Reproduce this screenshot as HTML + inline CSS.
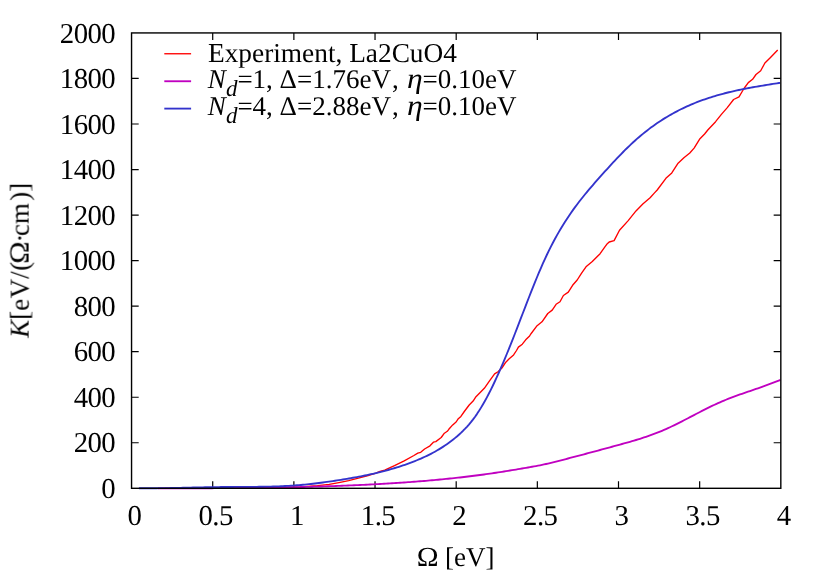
<!DOCTYPE html>
<html><head><meta charset="utf-8"><title>plot</title>
<style>
html,body{margin:0;padding:0;background:#fff;}
body{width:822px;height:576px;overflow:hidden;}
svg{display:block;}
text{font-family:"Liberation Serif",serif;font-size:27px;fill:#000;font-kerning:none;text-rendering:geometricPrecision;}
.i{font-style:italic;}
.tk{font-size:28.8px;letter-spacing:-0.55px;}
</style></head><body>
<svg width="822" height="576" viewBox="0 0 822 576">
<rect width="822" height="576" fill="#fff"/>
<g fill="none" stroke="#000" stroke-width="1.2" stroke-linecap="butt">
<path d="M212.71,488.3 V481.15 M212.71,32.93 V40.08 M293.87,488.3 V481.15 M293.87,32.93 V40.08 M375.03,488.3 V481.15 M375.03,32.93 V40.08 M456.19,488.3 V481.15 M456.19,32.93 V40.08 M537.34,488.3 V481.15 M537.34,32.93 V40.08 M618.50,488.3 V481.15 M618.50,32.93 V40.08 M699.66,488.3 V481.15 M699.66,32.93 V40.08 M131.55,442.76 H138.70 M780.82,442.76 H773.67 M131.55,397.23 H138.70 M780.82,397.23 H773.67 M131.55,351.69 H138.70 M780.82,351.69 H773.67 M131.55,306.15 H138.70 M780.82,306.15 H773.67 M131.55,260.62 H138.70 M780.82,260.62 H773.67 M131.55,215.08 H138.70 M780.82,215.08 H773.67 M131.55,169.54 H138.70 M780.82,169.54 H773.67 M131.55,124.00 H138.70 M780.82,124.00 H773.67 M131.55,78.47 H138.70 M780.82,78.47 H773.67"/>
</g>
<g fill="none" stroke-linejoin="round" stroke-linecap="butt">
<path d="M165.0,488.3 L260.0,488.0 L300.0,486.9 L317.5,485.7 L329.2,484.3 L338.9,482.6 L348.7,480.7 L358.4,478.2 L368.1,475.5 L375.9,473.1 L380.0,471.5 L384.7,470.1 L394.5,465.7 L404.2,460.9 L413.9,455.5 L417.8,453.1 L420.7,452.3 L424.6,449.0 L430.0,445.8 L433.4,442.2 L435.8,441.6 L441.2,437.5 L444.4,433.2 L447.3,431.3 L448.8,429.3 L452.7,424.9 L456.1,422.0 L458.0,419.1 L460.9,416.4 L464.3,411.5 L469.2,405.0 L473.1,401.1 L476.0,396.7 L480.9,391.8 L484.3,388.3 L489.7,380.7 L494.6,373.9 L498.0,371.7 L501.9,368.0 L505.8,362.2 L509.2,358.8 L513.6,354.9 L516.5,350.5 L518.4,347.1 L522.3,344.2 L525.7,339.8 L529.6,335.9 L530.8,334.0 L537.1,325.7 L542.0,321.8 L547.8,313.5 L552.2,310.1 L556.1,304.3 L560.0,301.8 L563.4,295.5 L568.3,292.1 L572.6,285.3 L577.2,280.0 L581.6,273.1 L586.0,266.8 L592.3,261.5 L600.1,253.7 L604.9,246.9 L607.3,243.7 L609.2,242.0 L614.1,240.6 L619.5,230.3 L628.2,220.6 L636.0,210.9 L642.8,204.1 L650.1,197.7 L654.5,192.9 L657.2,190.0 L665.9,178.3 L671.8,172.9 L678.1,163.2 L683.9,157.8 L689.8,153.0 L694.1,148.1 L699.5,139.3 L704.6,134.0 L707.8,130.0 L715.6,121.7 L721.4,114.4 L727.3,107.6 L733.6,99.5 L739.0,96.9 L741.9,92.0 L744.0,88.5 L748.3,82.6 L752.6,79.3 L756.0,74.5 L760.7,70.7 L764.9,63.0 L770.0,57.9 L777.7,50.0" stroke="#ff0000" stroke-width="1.35"/>
<path d="M158.0,488.34 L160.0,488.34 L162.0,488.34 L164.0,488.33 L166.0,488.33 L168.0,488.33 L170.0,488.32 L172.0,488.32 L174.0,488.32 L176.0,488.31 L178.0,488.31 L180.0,488.31 L182.0,488.30 L184.0,488.30 L186.0,488.29 L188.0,488.29 L190.0,488.28 L192.0,488.28 L194.0,488.27 L196.0,488.26 L198.0,488.26 L200.0,488.25 L202.0,488.24 L204.0,488.24 L206.0,488.23 L208.0,488.22 L210.0,488.21 L212.0,488.20 L214.0,488.19 L216.0,488.18 L218.0,488.17 L220.0,488.16 L222.0,488.15 L224.0,488.14 L226.0,488.12 L228.0,488.11 L230.0,488.10 L232.0,488.08 L234.0,488.06 L236.0,488.05 L238.0,488.03 L240.0,488.01 L242.0,488.00 L244.0,487.98 L246.0,487.96 L248.0,487.94 L250.0,487.91 L252.0,487.89 L254.0,487.87 L256.0,487.85 L258.0,487.82 L260.0,487.80 L262.0,487.77 L264.0,487.74 L266.0,487.71 L268.0,487.68 L270.0,487.65 L272.0,487.62 L274.0,487.59 L276.0,487.56 L278.0,487.52 L280.0,487.49 L282.0,487.45 L284.0,487.41 L286.0,487.37 L288.0,487.33 L290.0,487.29 L292.0,487.25 L294.0,487.21 L296.0,487.16 L298.0,487.12 L300.0,487.07 L302.0,487.02 L304.0,486.97 L306.0,486.92 L308.0,486.87 L310.0,486.82 L312.0,486.76 L314.0,486.70 L316.0,486.65 L318.0,486.59 L320.0,486.53 L322.0,486.47 L324.0,486.40 L326.0,486.34 L328.0,486.27 L330.0,486.20 L332.0,486.14 L334.0,486.06 L336.0,485.99 L338.0,485.92 L340.0,485.84 L342.0,485.77 L344.0,485.69 L346.0,485.61 L348.0,485.53 L350.0,485.44 L352.0,485.36 L354.0,485.27 L356.0,485.18 L358.0,485.09 L360.0,485.00 L362.0,484.90 L364.0,484.81 L366.0,484.71 L368.0,484.61 L370.0,484.51 L372.0,484.41 L374.0,484.30 L376.0,484.20 L378.0,484.09 L380.0,483.98 L382.0,483.86 L384.0,483.75 L386.0,483.63 L388.0,483.51 L390.0,483.39 L392.0,483.27 L394.0,483.14 L396.0,483.01 L398.0,482.88 L400.0,482.75 L402.0,482.62 L404.0,482.48 L406.0,482.34 L408.0,482.20 L410.0,482.05 L412.0,481.91 L414.0,481.76 L416.0,481.60 L418.0,481.45 L420.0,481.29 L422.0,481.13 L424.0,480.96 L426.0,480.80 L428.0,480.63 L430.0,480.45 L432.0,480.28 L434.0,480.10 L436.0,479.91 L438.0,479.73 L440.0,479.54 L442.0,479.35 L444.0,479.15 L446.0,478.95 L448.0,478.75 L450.0,478.54 L452.0,478.33 L454.0,478.12 L456.0,477.90 L458.0,477.68 L460.0,477.46 L462.0,477.23 L464.0,477.00 L466.0,476.76 L468.0,476.52 L470.0,476.28 L472.0,476.03 L474.0,475.78 L476.0,475.53 L478.0,475.27 L480.0,475.00 L482.0,474.73 L484.0,474.46 L486.0,474.19 L488.0,473.90 L490.0,473.62 L492.0,473.33 L494.0,473.04 L496.0,472.74 L498.0,472.43 L500.0,472.13 L502.0,471.82 L504.0,471.50 L506.0,471.18 L508.0,470.86 L510.0,470.53 L512.0,470.20 L514.0,469.87 L516.0,469.54 L518.0,469.20 L520.0,468.86 L522.0,468.52 L524.0,468.17 L526.0,467.82 L528.0,467.48 L530.0,467.12 L532.0,466.77 L534.0,466.42 L536.0,466.06 L538.0,465.68 L540.0,465.29 L542.0,464.88 L544.0,464.45 L546.0,464.01 L548.0,463.55 L550.0,463.07 L552.0,462.59 L554.0,462.09 L556.0,461.59 L558.0,461.08 L560.0,460.57 L562.0,460.06 L564.0,459.54 L566.0,459.03 L568.0,458.51 L570.0,457.98 L572.0,457.46 L574.0,456.94 L576.0,456.41 L578.0,455.88 L580.0,455.35 L582.0,454.82 L584.0,454.29 L586.0,453.75 L588.0,453.22 L590.0,452.68 L592.0,452.14 L594.0,451.61 L596.0,451.07 L598.0,450.53 L600.0,449.99 L602.0,449.45 L604.0,448.91 L606.0,448.36 L608.0,447.82 L610.0,447.28 L612.0,446.74 L614.0,446.19 L616.0,445.65 L618.0,445.11 L620.0,444.56 L622.0,444.01 L624.0,443.46 L626.0,442.91 L628.0,442.34 L630.0,441.77 L632.0,441.19 L634.0,440.61 L636.0,440.01 L638.0,439.40 L640.0,438.78 L642.0,438.14 L644.0,437.49 L646.0,436.83 L648.0,436.14 L650.0,435.44 L652.0,434.72 L654.0,433.98 L656.0,433.22 L658.0,432.44 L660.0,431.63 L662.0,430.80 L664.0,429.95 L666.0,429.06 L668.0,428.16 L670.0,427.23 L672.0,426.28 L674.0,425.32 L676.0,424.33 L678.0,423.34 L680.0,422.33 L682.0,421.31 L684.0,420.28 L686.0,419.24 L688.0,418.20 L690.0,417.16 L692.0,416.11 L694.0,415.06 L696.0,414.02 L698.0,412.98 L700.0,411.95 L702.0,410.92 L704.0,409.90 L706.0,408.89 L708.0,407.90 L710.0,406.92 L712.0,405.95 L714.0,405.00 L716.0,404.07 L718.0,403.17 L720.0,402.28 L722.0,401.42 L724.0,400.58 L726.0,399.76 L728.0,398.96 L730.0,398.18 L732.0,397.41 L734.0,396.66 L736.0,395.93 L738.0,395.20 L740.0,394.49 L742.0,393.78 L744.0,393.08 L746.0,392.39 L748.0,391.70 L750.0,391.02 L752.0,390.34 L754.0,389.65 L756.0,388.97 L758.0,388.28 L760.0,387.58 L762.0,386.88 L764.0,386.17 L766.0,385.45 L768.0,384.72 L770.0,383.98 L772.0,383.23 L774.0,382.46 L776.0,381.67 L778.0,380.86 L780.0,380.03 L780.4,379.86" stroke="#c000c0" stroke-width="1.85"/>
<path d="M138.9,488.27 L140.9,488.28 L142.9,488.29 L144.9,488.29 L146.9,488.29 L148.9,488.28 L150.9,488.28 L152.9,488.26 L154.9,488.25 L156.9,488.23 L158.9,488.20 L160.9,488.18 L162.9,488.15 L164.9,488.12 L166.9,488.09 L168.9,488.05 L170.9,488.01 L172.9,487.97 L174.9,487.93 L176.9,487.89 L178.9,487.85 L180.9,487.80 L182.9,487.76 L184.9,487.71 L186.9,487.67 L188.9,487.62 L190.9,487.58 L192.9,487.53 L194.9,487.48 L196.9,487.44 L198.9,487.40 L200.9,487.35 L202.9,487.31 L204.9,487.27 L206.9,487.23 L208.9,487.20 L210.9,487.16 L212.9,487.13 L214.9,487.10 L216.9,487.07 L218.9,487.05 L220.9,487.03 L222.9,487.01 L224.9,486.99 L226.9,486.98 L228.9,486.97 L230.9,486.96 L232.9,486.95 L234.9,486.94 L236.9,486.93 L238.9,486.92 L240.9,486.92 L242.9,486.91 L244.9,486.90 L246.9,486.89 L248.9,486.88 L250.9,486.87 L252.9,486.85 L254.9,486.84 L256.9,486.82 L258.9,486.79 L260.9,486.76 L262.9,486.73 L264.9,486.70 L266.9,486.66 L268.9,486.61 L270.9,486.56 L272.9,486.51 L274.9,486.45 L276.9,486.38 L278.9,486.31 L280.9,486.22 L282.9,486.14 L284.9,486.04 L286.9,485.94 L288.9,485.82 L290.9,485.70 L292.9,485.57 L294.9,485.43 L296.9,485.28 L298.9,485.12 L300.9,484.96 L302.9,484.78 L304.9,484.59 L306.9,484.39 L308.9,484.18 L310.9,483.96 L312.9,483.73 L314.9,483.49 L316.9,483.25 L318.9,483.00 L320.9,482.74 L322.9,482.47 L324.9,482.20 L326.9,481.92 L328.9,481.63 L330.9,481.34 L332.9,481.04 L334.9,480.74 L336.9,480.43 L338.9,480.12 L340.9,479.80 L342.9,479.48 L344.9,479.15 L346.9,478.82 L348.9,478.48 L350.9,478.13 L352.9,477.78 L354.9,477.42 L356.9,477.05 L358.9,476.68 L360.9,476.29 L362.9,475.90 L364.9,475.50 L366.9,475.08 L368.9,474.66 L370.9,474.22 L372.9,473.78 L374.9,473.32 L376.9,472.85 L378.9,472.37 L380.9,471.87 L382.9,471.37 L384.9,470.84 L386.9,470.31 L388.9,469.76 L390.9,469.19 L392.9,468.61 L394.9,468.01 L396.9,467.39 L398.9,466.76 L400.9,466.11 L402.9,465.45 L404.9,464.76 L406.9,464.06 L408.9,463.34 L410.9,462.59 L412.9,461.83 L414.9,461.05 L416.9,460.25 L418.9,459.42 L420.9,458.57 L422.9,457.68 L424.9,456.77 L426.9,455.83 L428.9,454.85 L430.9,453.84 L432.9,452.79 L434.9,451.70 L436.9,450.56 L438.9,449.39 L440.9,448.16 L442.9,446.89 L444.9,445.57 L446.9,444.19 L448.9,442.76 L450.9,441.27 L452.9,439.72 L454.9,438.12 L456.9,436.45 L458.9,434.70 L460.9,432.88 L462.9,430.97 L464.9,428.95 L466.9,426.82 L468.9,424.57 L470.9,422.18 L472.9,419.65 L474.9,416.96 L476.9,414.11 L478.9,411.08 L480.9,407.88 L482.9,404.52 L484.9,401.00 L486.9,397.33 L488.9,393.52 L490.9,389.56 L492.9,385.48 L494.9,381.27 L496.9,376.94 L498.9,372.50 L500.9,367.95 L502.9,363.31 L504.9,358.57 L506.9,353.74 L508.9,348.84 L510.9,343.86 L512.9,338.82 L514.9,333.72 L516.9,328.57 L518.9,323.39 L520.9,318.20 L522.9,312.99 L524.9,307.80 L526.9,302.62 L528.9,297.48 L530.9,292.38 L532.9,287.34 L534.9,282.37 L536.9,277.48 L538.9,272.69 L540.9,268.02 L542.9,263.46 L544.9,259.04 L546.9,254.76 L548.9,250.63 L550.9,246.63 L552.9,242.76 L554.9,239.02 L556.9,235.39 L558.9,231.88 L560.9,228.49 L562.9,225.19 L564.9,222.00 L566.9,218.91 L568.9,215.90 L570.9,212.98 L572.9,210.14 L574.9,207.37 L576.9,204.68 L578.9,202.05 L580.9,199.47 L582.9,196.96 L584.9,194.49 L586.9,192.07 L588.9,189.69 L590.9,187.34 L592.9,185.03 L594.9,182.73 L596.9,180.46 L598.9,178.20 L600.9,175.95 L602.9,173.71 L604.9,171.48 L606.9,169.27 L608.9,167.06 L610.9,164.88 L612.9,162.71 L614.9,160.56 L616.9,158.44 L618.9,156.34 L620.9,154.27 L622.9,152.23 L624.9,150.22 L626.9,148.24 L628.9,146.30 L630.9,144.40 L632.9,142.53 L634.9,140.71 L636.9,138.93 L638.9,137.19 L640.9,135.49 L642.9,133.84 L644.9,132.22 L646.9,130.65 L648.9,129.11 L650.9,127.61 L652.9,126.15 L654.9,124.72 L656.9,123.34 L658.9,121.98 L660.9,120.67 L662.9,119.38 L664.9,118.13 L666.9,116.92 L668.9,115.73 L670.9,114.58 L672.9,113.46 L674.9,112.37 L676.9,111.31 L678.9,110.28 L680.9,109.28 L682.9,108.30 L684.9,107.36 L686.9,106.44 L688.9,105.54 L690.9,104.68 L692.9,103.83 L694.9,103.01 L696.9,102.22 L698.9,101.45 L700.9,100.70 L702.9,99.97 L704.9,99.26 L706.9,98.58 L708.9,97.91 L710.9,97.27 L712.9,96.64 L714.9,96.04 L716.9,95.45 L718.9,94.88 L720.9,94.32 L722.9,93.78 L724.9,93.26 L726.9,92.75 L728.9,92.26 L730.9,91.78 L732.9,91.32 L734.9,90.87 L736.9,90.43 L738.9,90.00 L740.9,89.58 L742.9,89.17 L744.9,88.78 L746.9,88.39 L748.9,88.01 L750.9,87.64 L752.9,87.28 L754.9,86.92 L756.9,86.57 L758.9,86.23 L760.9,85.89 L762.9,85.56 L764.9,85.23 L766.9,84.91 L768.9,84.58 L770.9,84.26 L772.9,83.95 L774.9,83.63 L776.9,83.31 L778.9,83.00 L780.2,82.79" stroke="#3333cc" stroke-width="1.85"/>
</g>
<rect x="131.55" y="32.93" width="649.27" height="455.37" fill="none" stroke="#000" stroke-width="1.4"/>
<g fill="none" stroke-linecap="butt">
<path d="M164.3,53.75 H191.1" stroke="#ff0000" stroke-width="1.35"/>
<path d="M164.3,81.25 H191.1" stroke="#c000c0" stroke-width="1.85"/>
<path d="M164.3,108.6 H191.1" stroke="#3333cc" stroke-width="1.85"/>
</g>
<g id="txt" style="opacity:0.999">
<g><text class="tk" x="134.50" y="525.2" text-anchor="middle">0</text><text class="tk" x="215.66" y="525.2" text-anchor="middle">0.5</text><text class="tk" x="296.82" y="525.2" text-anchor="middle">1</text><text class="tk" x="377.98" y="525.2" text-anchor="middle">1.5</text><text class="tk" x="459.13" y="525.2" text-anchor="middle">2</text><text class="tk" x="540.29" y="525.2" text-anchor="middle">2.5</text><text class="tk" x="621.45" y="525.2" text-anchor="middle">3</text><text class="tk" x="702.61" y="525.2" text-anchor="middle">3.5</text><text class="tk" x="783.77" y="525.2" text-anchor="middle">4</text></g>
<g><text class="tk" x="115.2" y="498.00" text-anchor="end">0</text><text class="tk" x="115.2" y="452.46" text-anchor="end">200</text><text class="tk" x="115.2" y="406.93" text-anchor="end">400</text><text class="tk" x="115.2" y="361.39" text-anchor="end">600</text><text class="tk" x="115.2" y="315.85" text-anchor="end">800</text><text class="tk" x="115.2" y="270.31" text-anchor="end">1000</text><text class="tk" x="115.2" y="224.78" text-anchor="end">1200</text><text class="tk" x="115.2" y="179.24" text-anchor="end">1400</text><text class="tk" x="115.2" y="133.70" text-anchor="end">1600</text><text class="tk" x="115.2" y="88.17" text-anchor="end">1800</text><text class="tk" x="115.2" y="42.63" text-anchor="end">2000</text></g>
<text x="208.0" y="62.4" style="font-size:27.34px">Experiment, La2CuO4</text>
<text x="207.8" y="87.5"><tspan class="i">N</tspan><tspan class="i" font-size="23" dy="8.2" x="226">d</tspan><tspan dy="-8.2" x="237.4">=1, Δ=1.76eV</tspan><tspan x="391.9">,</tspan><tspan x="422.6">=0.10eV</tspan></text>
<text class="i" transform="translate(406.9,87.5) scale(1.17,1.06)">η</text>
<text x="207.8" y="114.8"><tspan class="i">N</tspan><tspan class="i" font-size="23" dy="8.2" x="226">d</tspan><tspan dy="-8.2" x="237.4">=4, Δ=2.88eV</tspan><tspan x="391.9">,</tspan><tspan x="422.6">=0.10eV</tspan></text>
<text class="i" transform="translate(406.9,114.8) scale(1.17,1.06)">η</text>
<text transform="translate(416.7,566.3) scale(1.09,1.02)">Ω</text>
<text x="445.1" y="566.3">[eV]</text>
<g transform="translate(28.6,337.8) rotate(-90)"><text x="0" y="0"><tspan class="i">K</tspan>[e<tspan x="39.6">V/</tspan><tspan x="66.9">(</tspan><tspan x="95.3">·</tspan><tspan x="101.7">cm</tspan><tspan x="137">)]</tspan></text><text transform="translate(74,0) scale(1.12,1.03)">Ω</text></g>
</g>
</svg>
</body></html>
